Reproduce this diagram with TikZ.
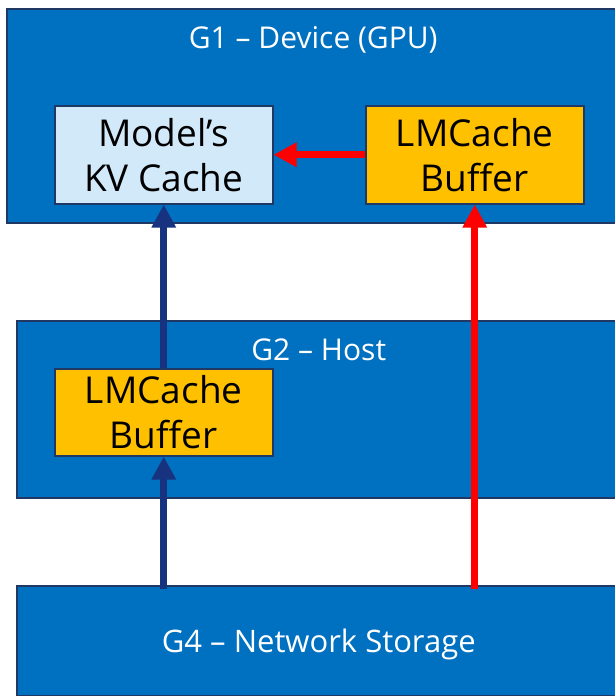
\documentclass[tikz,border=0pt]{standalone}
\usepackage{fontspec}
\setmainfont{Open Sans}
\usetikzlibrary{positioning,arrows.meta}

\definecolor{tierblue}{HTML}{0070C0}
\definecolor{tierline}{HTML}{1F3864}
\definecolor{kvfill}{HTML}{D2E9FA}
\definecolor{buforange}{HTML}{FFC000}
\definecolor{loadblue}{HTML}{17337F}
\definecolor{loadred}{HTML}{FF0000}

\begin{document}
\begin{tikzpicture}[x=1pt, y=-1pt, >={Triangle[length=23pt, width=23pt]}]
      \tikzset{
	  tier/.style={rectangle, draw=tierline, fill=tierblue, line width=1.5pt, inner sep=0pt, anchor=north west},
	  tiertitle/.style={text=white, anchor=base, font=\fontsize{30}{36}\selectfont},
	  cachebox/.style={rectangle, draw=tierline, line width=1.5pt, inner sep=0pt, anchor=north west, minimum width=218pt, align=center, font=\fontsize{37}{45}\selectfont},
	  kvbox/.style={cachebox, fill=kvfill, minimum height=98pt},
	  bufbox/.style={cachebox, fill=buforange},
	  loadblue/.style={->, line width=7pt, draw=loadblue},
	  loadred/.style={->, line width=7pt, draw=loadred}
      }

      \clip (0,0) rectangle (615,696);

      %-----tiers
      \node (g1) at (6,8) [tier, minimum width=613pt, minimum height=214pt] {};
      \node (g1t) at ([yshift=-40pt]g1.north) [tiertitle] {G1 – Device (GPU)};

      \node (g2) at (16,320) [tier, minimum width=604pt, minimum height=177pt] {};
      \node (g2t) at ([yshift=-40pt]g2.north) [tiertitle] {G2 – Host};

      \node (g4) at (16,585) [tier, minimum width=604pt, minimum height=110pt, text depth=0pt, text=white, font=\fontsize{31}{36}\selectfont] {G4 – Network Storage};

      %-----caches
      \node (kv) at (54,105) [kvbox] {Model’s\\KV Cache};
      \node (buf1) at (365,105) [bufbox, minimum height=98pt] {LMCache\\Buffer};
      \node (buf2) at (54,368) [bufbox, minimum height=87pt] {LMCache\\Buffer};

      %-----transfers
      \draw [loadred] (buf1.west) -- (kv.east);
      \draw [loadblue] (buf2.north) -- (kv.south);
      \draw [loadblue] ([yshift=-4pt]buf2.south |- g4.north) -- (buf2.south);
      \draw [loadred] ([yshift=-4pt]buf1.south |- g4.north) -- (buf1.south);
\end{tikzpicture}
\end{document}
